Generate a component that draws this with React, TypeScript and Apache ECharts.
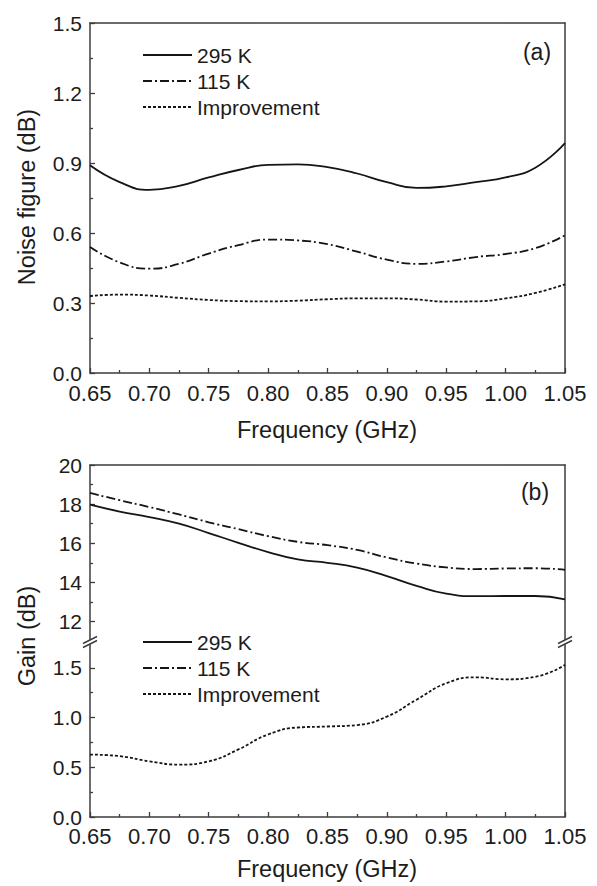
import React, { useEffect, useRef } from "react";
import * as echarts from "echarts";

// ---- data ----
const FREQ = [0.65, 0.675, 0.7, 0.725, 0.75, 0.775, 0.8, 0.825, 0.85, 0.875, 0.9, 0.925, 0.95, 0.975, 1.0, 1.025, 1.05];
const NF_295 = [0.89, 0.818, 0.785, 0.802, 0.838, 0.87, 0.892, 0.894, 0.882, 0.855, 0.818, 0.793, 0.8, 0.818, 0.838, 0.88, 0.985];
const NF_115 = [0.54, 0.474, 0.447, 0.468, 0.512, 0.548, 0.572, 0.568, 0.552, 0.52, 0.486, 0.468, 0.478, 0.497, 0.51, 0.535, 0.59];
const NF_IMP = [0.33, 0.336, 0.332, 0.322, 0.313, 0.308, 0.307, 0.31, 0.316, 0.32, 0.32, 0.315, 0.306, 0.307, 0.32, 0.343, 0.38];
const GAIN_295 = [17.97, 17.62, 17.34, 17.0, 16.52, 16.02, 15.55, 15.17, 15.0, 14.75, 14.32, 13.82, 13.42, 13.29, 13.3, 13.3, 13.13];
const GAIN_115 = [18.57, 18.2, 17.85, 17.47, 17.07, 16.72, 16.36, 16.07, 15.9, 15.66, 15.27, 14.96, 14.76, 14.68, 14.71, 14.72, 14.64];
const GAIN_IMP = [0.628, 0.612, 0.56, 0.527, 0.56, 0.68, 0.83, 0.9, 0.91, 0.925, 1.01, 1.18, 1.345, 1.405, 1.385, 1.41, 1.53];

const X_TICKS = [0.65, 0.7, 0.75, 0.8, 0.85, 0.9, 0.95, 1.0, 1.05];
const X_MINOR = [0.675, 0.725, 0.775, 0.825, 0.875, 0.925, 0.975, 1.025];
const NF_TICKS = [0, 0.3, 0.6, 0.9, 1.2, 1.5];
const NF_MINOR = [0.15, 0.45, 0.75, 1.05, 1.35];
const GAIN_UP_TICKS = [12, 14, 16, 18, 20];
const GAIN_UP_MINOR = [13, 15, 17, 19];
const GAIN_LO_TICKS = [0, 0.5, 1.0, 1.5];
const GAIN_LO_MINOR = [0.25, 0.75, 1.25];

const LEGEND = ["295 K", "115 K", "Improvement"];

const FONT = "'Liberation Sans', Arial, Helvetica, sans-serif";
const AXIS_COLOR = "#3c3c3c";
const TEXT_COLOR = "#1c1c1c";
const LINE_COLOR = "#151515";
const STYLES: any[] = ["solid", [9, 3, 2, 3], [3, 2]];

const pairs = (ys: number[]) => FREQ.map((f, i) => [f, ys[i]]);

function mainAxis(gridIndex: number, position: string, min: number, max: number, ticks: number[], decimals: number, fontSize: number, margin: number) {
  return {
    type: "value",
    gridIndex,
    position,
    min,
    max,
    axisLine: { show: true, onZero: false, lineStyle: { color: AXIS_COLOR, width: 1.5 } },
    axisTick: { show: true, inside: true, length: 5, customValues: ticks, lineStyle: { color: AXIS_COLOR, width: 1.3 } },
    axisLabel: {
      show: true,
      customValues: ticks,
      formatter: (v: number) => v.toFixed(decimals),
      color: TEXT_COLOR,
      fontSize,
      fontFamily: FONT,
      margin,
    },
    splitLine: { show: false },
  };
}

function minorAxis(gridIndex: number, position: string, min: number, max: number, ticks: number[]) {
  return {
    type: "value",
    gridIndex,
    position,
    min,
    max,
    axisLine: { show: false, onZero: false },
    axisTick: { show: true, inside: true, length: 3, customValues: ticks, lineStyle: { color: AXIS_COLOR, width: 1.3 } },
    axisLabel: { show: false },
    splitLine: { show: false },
  };
}

function frameAxis(gridIndex: number, position: string, min: number, max: number) {
  return {
    type: "value",
    gridIndex,
    position,
    min,
    max,
    axisLine: { show: true, onZero: false, lineStyle: { color: AXIS_COLOR, width: 1.5 } },
    axisTick: { show: false },
    axisLabel: { show: false },
    splitLine: { show: false },
  };
}

function legendGraphics(y0: number) {
  const out: any[] = [];
  LEGEND.forEach((name, i) => {
    const y = y0 + i * 26;
    out.push({
      type: "line",
      shape: { x1: 143, y1: y, x2: 192, y2: y },
      style: { stroke: LINE_COLOR, lineWidth: 1.8, lineDash: STYLES[i] === "solid" ? null : STYLES[i] },
    });
    out.push({
      type: "text",
      x: 197,
      y,
      style: { text: name, font: `21px ${FONT}`, fill: TEXT_COLOR, textVerticalAlign: "middle", textAlign: "left" },
    });
  });
  return out;
}

function breakMark(x: number, y: number) {
  return [
    {
      type: "polygon",
      shape: { points: [[x - 7, y + 1.5], [x + 7, y - 5.5], [x + 7, y - 1.5], [x - 7, y + 5.5]] },
      style: { fill: "#ffffff" },
      z: 100,
    },
    {
      type: "line",
      shape: { x1: x - 7, y1: y + 1.5, x2: x + 7, y2: y - 5.5 },
      style: { stroke: AXIS_COLOR, lineWidth: 1.4 },
      z: 101,
    },
    {
      type: "line",
      shape: { x1: x - 7, y1: y + 5.5, x2: x + 7, y2: y - 1.5 },
      style: { stroke: AXIS_COLOR, lineWidth: 1.4 },
      z: 101,
    },
  ];
}

function textG(text: string, x: number, y: number, size: number, rotate = 0) {
  return {
    type: "text",
    x,
    y,
    rotation: rotate,
    style: { text, font: `${size}px ${FONT}`, fill: TEXT_COLOR, textAlign: "center", textVerticalAlign: "middle" },
  };
}

export default function App() {
  const ref = useRef<HTMLDivElement>(null);

  useEffect(() => {
    document.body.style.margin = "0";
    if (!ref.current) return;
    const chart = echarts.init(ref.current, null, { renderer: "svg" });

    const line = (name: string, data: number[], xi: number, yi: number, style: any) => ({
      name,
      type: "line",
      xAxisIndex: xi,
      yAxisIndex: yi,
      data: pairs(data),
      smooth: 0.5,
      showSymbol: false,
      symbol: "none",
      lineStyle: { color: LINE_COLOR, width: 1.8, type: style },
      z: 5,
    });

    const option: any = {
      animation: false,
      backgroundColor: "#ffffff",
      grid: [
        { left: 90, top: 23, width: 475, height: 350 },
        { left: 90, top: 465, width: 475, height: 176 },
        { left: 90, top: 643, width: 475, height: 174 },
      ],
      xAxis: [
        mainAxis(0, "bottom", 0.65, 1.05, X_TICKS, 2, 22, 9),
        minorAxis(0, "bottom", 0.65, 1.05, X_MINOR),
        frameAxis(0, "top", 0.65, 1.05),
        frameAxis(1, "top", 0.65, 1.05),
        mainAxis(2, "bottom", 0.65, 1.05, X_TICKS, 2, 22, 8),
        minorAxis(2, "bottom", 0.65, 1.05, X_MINOR),
      ],
      yAxis: [
        mainAxis(0, "left", 0, 1.5, NF_TICKS, 1, 21, 8),
        minorAxis(0, "left", 0, 1.5, NF_MINOR),
        frameAxis(0, "right", 0, 1.5),
        mainAxis(1, "left", 11, 20, GAIN_UP_TICKS, 0, 21, 8),
        minorAxis(1, "left", 11, 20, GAIN_UP_MINOR),
        frameAxis(1, "right", 11, 20),
        mainAxis(2, "left", 0, 1.75, GAIN_LO_TICKS, 1, 21, 8),
        minorAxis(2, "left", 0, 1.75, GAIN_LO_MINOR),
        frameAxis(2, "right", 0, 1.75),
      ],
      series: [
        line("295 K", NF_295, 0, 0, STYLES[0]),
        line("115 K", NF_115, 0, 0, STYLES[1]),
        line("Improvement", NF_IMP, 0, 0, STYLES[2]),
        line("295 K", GAIN_295, 3, 3, STYLES[0]),
        line("115 K", GAIN_115, 3, 3, STYLES[1]),
        line("Improvement", GAIN_IMP, 4, 6, STYLES[2]),
      ],
      graphic: [
        ...legendGraphics(55),
        ...legendGraphics(642),
        ...breakMark(90, 642),
        ...breakMark(565, 642),
        textG("(a)", 537, 52, 23),
        textG("(b)", 535, 492, 23),
        textG("Frequency (GHz)", 327, 430, 23.5),
        textG("Frequency (GHz)", 327, 869, 23.5),
        textG("Noise figure (dB)", 27, 197, 23.5, Math.PI / 2),
        textG("Gain (dB)", 27, 636, 23.5, Math.PI / 2),
      ],
    };

    chart.setOption(option);
    return () => chart.dispose();
  }, []);

  return <div ref={ref} style={{ width: 597, height: 886 }} />;
}
